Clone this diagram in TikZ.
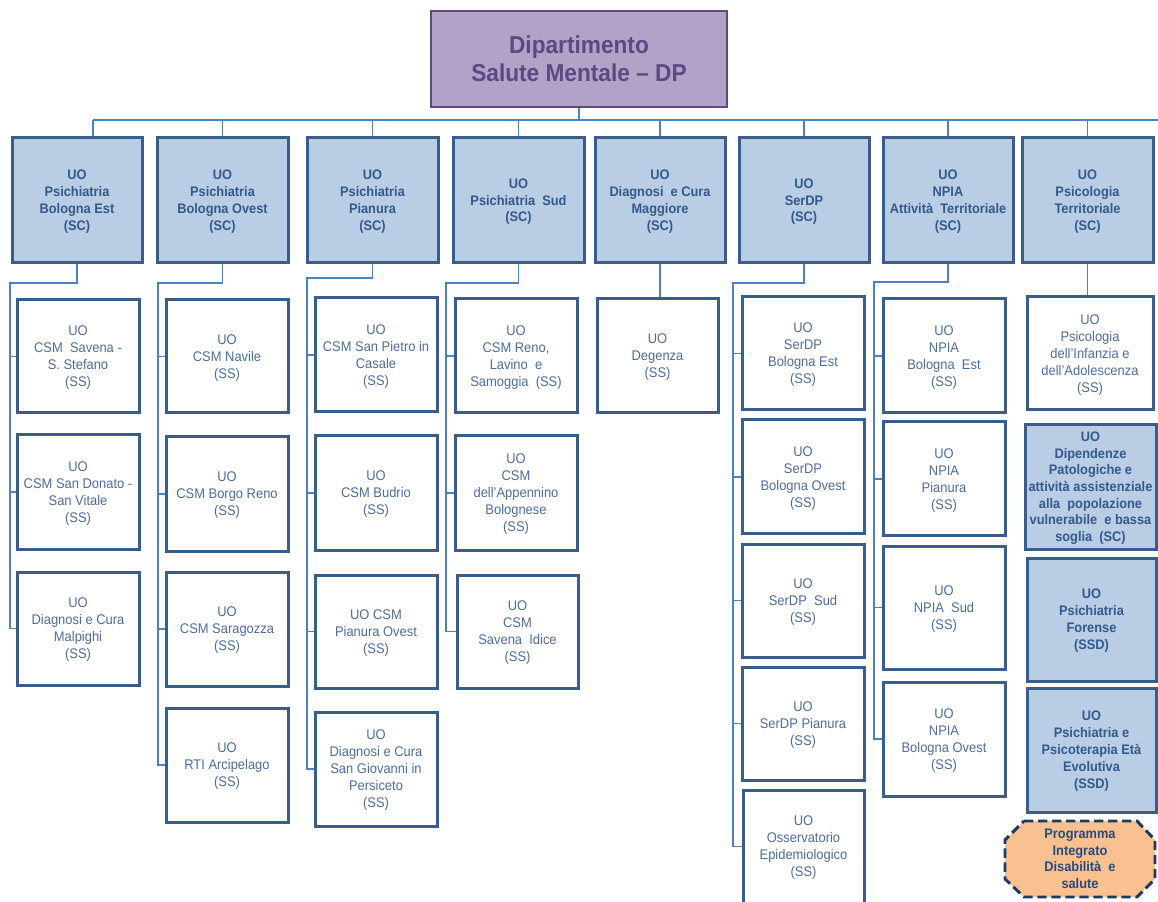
\documentclass[tikz,border=0pt]{standalone}
\usepackage{fontspec}
\usepackage{graphicx}
\setmainfont{Liberation Sans}
\definecolor{scf}{HTML}{B9CDE5}
\definecolor{scb}{HTML}{3A5D8A}
\definecolor{sct}{HTML}{34598A}
\definecolor{sst}{HTML}{4F6D9A}
\definecolor{conncol}{HTML}{4F81BD}
\definecolor{topf}{HTML}{B3A2C7}
\definecolor{topb}{HTML}{5F497A}
\definecolor{topt}{HTML}{5B4A82}
\definecolor{progf}{HTML}{FAC090}
\definecolor{progb}{HTML}{1F3A60}
\definecolor{progt}{HTML}{2A4A7A}
\newcommand\vtext[2][0.9pt]{\raisebox{-#1}[\height][\depth]{\scalebox{1}[1.08]{\begin{tabular}{@{}c@{}}#2\end{tabular}}}}
\newcommand\ubox[7]{\node[#6, minimum width={(#4-#2)*0.75pt}, minimum height={(#5-#3)*0.75pt}] (#1) at ({(#2+#4)/2},{(#3+#5)/2}) {\vtext{#7}};}
\tikzset{
  topbox/.style={draw=topb, fill=topf, line width=2.2pt, text=topt, font=\fontsize{17}{19.5}\selectfont\bfseries, align=center, inner sep=1pt},
  scbox/.style={draw=scb, fill=scf, line width=2.25pt, text=sct, font=\fontsize{9.6}{11.7}\selectfont\bfseries, align=center, inner sep=1pt},
  ssbox/.style={draw=scb, fill=white, line width=2.25pt, text=sst, font=\fontsize{9.7}{11.8}\selectfont, align=center, inner sep=1pt},
  depbox/.style={scbox, font=\fontsize{9.6}{11.6}\selectfont\bfseries},
  conn/.style={draw=conncol, line width=1.1pt},
  progtext/.style={text=progt, font=\fontsize{9.6}{11.6}\selectfont\bfseries, align=center, inner sep=1pt}
}
\begin{document}
\begin{tikzpicture}[x=0.75pt,y=-0.75pt]
\fill[white] (0,0) rectangle (1158,902);
\useasboundingbox (0,0) rectangle (1158,902);
% top
\node[topbox, minimum width={296*0.75pt}, minimum height={96*0.75pt}] (top) at (579,59) {\vtext[2.3pt]{Dipartimento\\Salute Mentale -- DP}};
% level 1
\ubox{b1}{12}{138}{142}{263}{scbox}{UO\\Psichiatria\\Bologna Est\\(SC)}
\ubox{b2}{157}{138}{288}{263}{scbox}{UO\\Psichiatria\\Bologna Ovest\\(SC)}
\ubox{b3}{307}{138}{438}{263}{scbox}{UO\\Psichiatria\\Pianura\\(SC)}
\ubox{b4}{453}{138}{584}{263}{scbox}{UO\\Psichiatria\ \ Sud\\(SC)}
\ubox{b5}{595}{138}{725}{263}{scbox}{UO\\Diagnosi\ \ e Cura\\Maggiore\\(SC)}
\ubox{b6}{739}{138}{869}{263}{scbox}{UO\\SerDP\\(SC)}
\ubox{b7}{883}{138}{1013}{263}{scbox}{UO\\NPIA\\Attività\ \ Territoriale\\(SC)}
\ubox{b8}{1022}{138}{1153}{263}{scbox}{UO\\Psicologia\\Territoriale\\(SC)}
% column 1
\ubox{c11}{17}{300}{139}{413}{ssbox}{UO\\CSM\ \ Savena -\\S. Stefano\\(SS)}
\ubox{c12}{17}{435}{139}{549}{ssbox}{UO\\CSM San Donato -\\San Vitale\\(SS)}
\ubox{c13}{17}{572}{139}{685}{ssbox}{UO\\Diagnosi e Cura\\Malpighi\\(SS)}
% column 2
\ubox{c21}{166}{300}{288}{413}{ssbox}{UO\\CSM Navile\\(SS)}
\ubox{c22}{166}{437}{288}{551}{ssbox}{UO\\CSM Borgo Reno\\(SS)}
\ubox{c23}{166}{572}{288}{686}{ssbox}{UO\\CSM Saragozza\\(SS)}
\ubox{c24}{166}{708}{288}{822}{ssbox}{UO\\RTI Arcipelago\\(SS)}
% column 3
\ubox{c31}{315}{298}{437}{412}{ssbox}{UO\\CSM San Pietro in\\Casale\\(SS)}
\ubox{c32}{315}{436}{437}{550}{ssbox}{UO\\CSM Budrio\\(SS)}
\ubox{c33}{315}{575}{437}{688}{ssbox}{UO CSM\\Pianura Ovest\\(SS)}
\ubox{c34}{315}{712}{437}{826}{ssbox}{UO\\Diagnosi e Cura\\San Giovanni in\\Persiceto\\(SS)}
% column 4
\ubox{c41}{455}{299}{577}{413}{ssbox}{UO\\CSM Reno,\\Lavino\ \ e\\Samoggia\ \ (SS)}
\ubox{c42}{455}{436}{577}{550}{ssbox}{UO\\CSM\\dell'Appennino\\Bolognese\\(SS)}
\ubox{c43}{457}{575}{578}{688}{ssbox}{UO\\CSM\\Savena\ \ Idice\\(SS)}
% column 5
\ubox{c51}{597}{299}{718}{413}{ssbox}{UO\\Degenza\\(SS)}
% column 6
\ubox{c61}{742}{297}{864}{410}{ssbox}{UO\\SerDP\\Bologna Est\\(SS)}
\ubox{c62}{742}{420}{864}{534}{ssbox}{UO\\SerDP\\Bologna Ovest\\(SS)}
\ubox{c63}{742}{544}{864}{657}{ssbox}{UO\\SerDP\ \ Sud\\(SS)}
\ubox{c64}{742}{667}{864}{780}{ssbox}{UO\\SerDP Pianura\\(SS)}
\ubox{c65}{743}{790}{864}{903}{ssbox}{UO\\Osservatorio\\Epidemiologico\\(SS)}
% column 7
\ubox{c71}{883}{299}{1005}{413}{ssbox}{UO\\NPIA\\Bologna\ \ Est\\(SS)}
\ubox{c72}{883}{422}{1005}{536}{ssbox}{UO\\NPIA\\Pianura\\(SS)}
\ubox{c73}{883}{546}{1005}{669}{ssbox}{UO\\NPIA\ \ Sud\\(SS)}
\ubox{c74}{883}{682}{1005}{796}{ssbox}{UO\\NPIA\\Bologna Ovest\\(SS)}
% column 8
\ubox{c81}{1027}{297}{1153}{410}{ssbox}{UO\\Psicologia\\dell'Infanzia e\\dell'Adolescenza\\(SS)}
\ubox{d1}{1025}{425}{1156}{549}{depbox}{UO\\Dipendenze\\Patologiche e\\attività assistenziale\\alla\ \ popolazione\\vulnerabile\ \ e bassa\\soglia\ \ (SC)}
\ubox{d2}{1027}{558}{1156}{681}{scbox}{UO\\Psichiatria\\Forense\\(SSD)}
\ubox{d3}{1027}{688}{1156}{812}{scbox}{UO\\Psichiatria e\\Psicoterapia Età\\Evolutiva\\(SSD)}
% programme octagon
\filldraw[fill=progf, draw=progb, line width=2.2pt, dash pattern=on 7pt off 3.5pt, line join=round]
  (1024,821) -- (1137,821) -- (1155,840) -- (1155,879) -- (1137,897) -- (1024,897) -- (1005,879) -- (1005,840) -- cycle;
\node[progtext] (prog) at (1080,859) {\vtext{Programma\\Integrato\\Disabilità\ \ e\\salute}};
% bus
\draw[conn] (top.south) -- (top.south |- 0,120);
\draw[conn] (93,120) -- (1158,120);
\draw[conn] (93,120) -- (b1.north -| 93,0);
\foreach \b in {b2,b3,b4,b5,b6,b7,b8} \draw[conn] (\b.north |- 0,120) -- (\b.north);
% column 1
\draw[conn] (b1.south) -- (b1.south |- 0,283) -- (10,283) |- (c11.west);
\draw[conn] (10,283) |- (c12.west);
\draw[conn] (10,283) |- (c13.west);
% column 2
\draw[conn] (b2.south) -- (b2.south |- 0,283) -- (158,283) |- (c21.west);
\foreach \c in {c22,c23,c24} \draw[conn] (158,283) |- (\c.west);
% column 3
\draw[conn] (b3.south) -- (b3.south |- 0,278) -- (307,278) |- (c31.west);
\foreach \c in {c32,c33,c34} \draw[conn] (307,278) |- (\c.west);
% column 4
\draw[conn] (b4.south) -- (b4.south |- 0,283) -- (446,283) |- (c41.west);
\foreach \c in {c42,c43} \draw[conn] (446,283) |- (\c.west);
% column 5
\draw[conn] (b5.south) -- (b5.south |- c51.north);
% column 6
\draw[conn] (b6.south) -- (b6.south |- 0,283) -- (733,283) |- (c61.west);
\foreach \c in {c62,c63,c64,c65} \draw[conn] (733,283) |- (\c.west);
% column 7
\draw[conn] (b7.south) -- (b7.south |- 0,282) -- (874,282) |- (c71.west);
\foreach \c in {c72,c73,c74} \draw[conn] (874,282) |- (\c.west);
% column 8
\draw[conn] (b8.south) -- (b8.south |- c81.north);
\end{tikzpicture}
\end{document}
